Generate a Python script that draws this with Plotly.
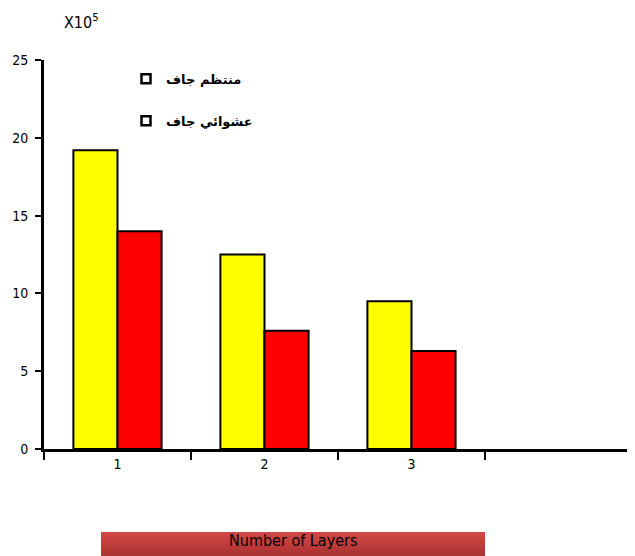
import plotly.graph_objects as go

categories = ["1", "2", "3"]
all_slots = ["1", "2", "3", " "]
regular_dry = [19.2, 12.5, 9.5]
random_dry = [14.0, 7.6, 6.3]
series_names = ["منتظم جاف", "عشوائي جاف"]
y_ticks = [0, 5, 10, 15, 20, 25]

narrow = "DejaVu Sans Condensed, Liberation Sans Narrow, sans-serif"

fig = go.Figure()
fig.add_trace(go.Bar(x=categories, y=regular_dry, name=series_names[0], showlegend=False,
                     marker=dict(color="#ffff00", line=dict(color="black", width=2))))
fig.add_trace(go.Bar(x=categories, y=random_dry, name=series_names[1], showlegend=False,
                     marker=dict(color="#ff0000", line=dict(color="black", width=2))))
for i, nm in enumerate(series_names):
    fig.add_trace(go.Scatter(x=[None], y=[None], mode="markers", name=nm, legendgroup=str(i),
                             marker=dict(symbol="square", size=9, color="white",
                                         line=dict(color="black", width=2.5))))

# page body has an 8px margin; plot area sits at page x 44..632, y 60..449
PW = 588.0
PH = 389.0

def px(page_x):
    return (page_x - 44) / PW

def py(page_y):
    return (449 - page_y) / PH

fig.update_layout(
    width=627, height=548,
    margin=dict(l=36, r=3, t=52, b=107, autoexpand=False),
    paper_bgcolor="white", plot_bgcolor="white",
    barmode="group", bargap=0.4, bargroupgap=0,
    showlegend=True,
    legend=dict(x=px(126), y=0.99, xanchor="left", yanchor="top",
                traceorder="grouped", tracegroupgap=22, itemwidth=30,
                font=dict(family="DejaVu Sans", size=13, color="black", weight="bold"),
                bgcolor="rgba(0,0,0,0)"),
    xaxis=dict(type="category", categoryorder="array", categoryarray=all_slots,
               range=[-0.5, 3.5], tickson="boundaries", automargin=False,
               showline=True, linecolor="black", linewidth=3,
               ticks="outside", ticklen=8, tickwidth=2, tickcolor="black",
               showgrid=False, zeroline=False,
               tickfont=dict(family=narrow, size=14, color="black")),
    yaxis=dict(range=[0, 25], tickvals=y_ticks, automargin=False,
               showline=True, linecolor="black", linewidth=3,
               ticks="outside", ticklen=6, tickwidth=2, tickcolor="black",
               showgrid=False, zeroline=False, ticklabelstandoff=4,
               tickfont=dict(family=narrow, size=14, color="black")),
)

# gradient box under the axis
x0, x1 = px(101), px(485)
ytop, ybot = py(532), py(560)
cols = ["#d04545", "#cb4242", "#c53f3f", "#bf3c3c", "#b93939", "#b33636", "#ad3333", "#a73131"]
n = len(cols)
for k, c in enumerate(cols):
    ya = ytop + (ybot - ytop) * k / n
    yb = ytop + (ybot - ytop) * (k + 1.6) / n
    fig.add_shape(type="rect", xref="paper", yref="paper", x0=x0, x1=x1, y0=max(yb, ybot), y1=ya,
                  fillcolor=c, line=dict(width=0), layer="above")
fig.add_annotation(text="Number of Layers", xref="paper", yref="paper",
                   x=(x0 + x1) / 2, y=py(540), xanchor="center", yanchor="middle",
                   showarrow=False, font=dict(family=narrow, size=16, color="black"))
fig.add_annotation(text="X10<sup>5</sup>", xref="paper", yref="paper",
                   x=px(81), y=py(22), xanchor="center", yanchor="middle",
                   showarrow=False, font=dict(family=narrow, size=16, color="black"))

fig.write_html("out.html")
